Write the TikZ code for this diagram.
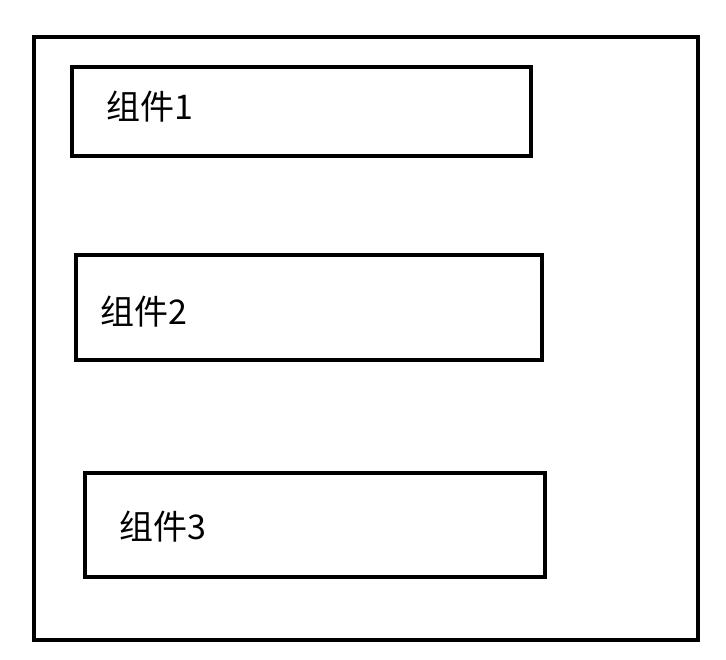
\documentclass[tikz,border=0pt]{standalone}
\usepackage{fontspec}
\newfontfamily\cjk{Noto Sans CJK SC}
\begin{document}
\begin{tikzpicture}[x=1pt,y=-1pt,
  box/.style={draw=black,line width=4pt,fill=none},
  lbl/.style={font=\cjk\fontsize{34}{40}\selectfont,anchor=west,inner sep=0pt}]
\useasboundingbox[fill=white] (0,0) rectangle (726,660);
\draw[box] (34,37) rectangle (698,640);
\draw[box] (72,67) rectangle (531,156);
\draw[box] (76,255) rectangle (542,360);
\draw[box] (85,473) rectangle (545,577);
\node[lbl] (t1) at (106,107) {组件1};
\node[lbl] (t2) at (100,312) {组件2};
\node[lbl] (t3) at (119,527) {组件3};
\end{tikzpicture}
\end{document}
